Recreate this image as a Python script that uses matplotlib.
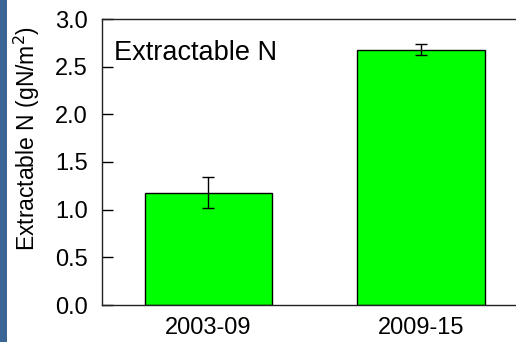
import matplotlib
matplotlib.use("Agg")
import matplotlib.pyplot as plt
from matplotlib.patches import Rectangle

plt.rcParams['font.family'] = ['Liberation Sans', 'DejaVu Sans']

periods = ["2003-09", "2009-15"]
extractable_n = [1.18, 2.68]
extractable_n_se = [0.16, 0.06]
y_ticks = [0.0, 0.5, 1.0, 1.5, 2.0, 2.5, 3.0]

W, H = 516, 342
fig = plt.figure(figsize=(W / 100, H / 100), dpi=100)
fig.patch.set_facecolor("white")

# slide-edge accent strip
fig.add_artist(Rectangle((0, 0), 7 / W, 1, transform=fig.transFigure,
                         facecolor="#3a6595", edgecolor="none", zorder=0))

left, right, top, bottom = 102, 527, 19, 305
ax = fig.add_axes([left / W, 1 - bottom / H, (right - left) / W, (bottom - top) / H])

x = list(range(len(periods)))
ax.bar(x, extractable_n, width=0.6, color="#00ff00", edgecolor="black",
       linewidth=1.0, zorder=2)
ax.errorbar(x, extractable_n, yerr=extractable_n_se, fmt="none", ecolor="black",
            elinewidth=1.0, capsize=4.5, capthick=1.0, zorder=3)

ax.set_xlim(-0.5, 1.5)
ax.set_ylim(0, 3.0)
ax.set_yticks(y_ticks)
ax.set_yticklabels([f"{v:.1f}" for v in y_ticks])
ax.set_xticks(x)
ax.set_xticklabels(periods)

ax.tick_params(axis="y", direction="in", length=8, width=1, labelsize=17, pad=10)
ax.tick_params(axis="x", length=0, labelsize=17, pad=9)
for side in ["left", "top", "bottom"]:
    ax.spines[side].set_color("#222222")
    ax.spines[side].set_linewidth(1.0)
ax.spines["right"].set_visible(False)

ax.set_ylabel("Extractable N (gN/m$^2$)", fontsize=16.5, va="center")
ax.yaxis.set_label_coords(-0.176, 0.584)
ax.text(0.028, 0.88, "Extractable N", transform=ax.transAxes, fontsize=19.5,
        ha="left", va="center")

fig.savefig("out.png", dpi=100)
